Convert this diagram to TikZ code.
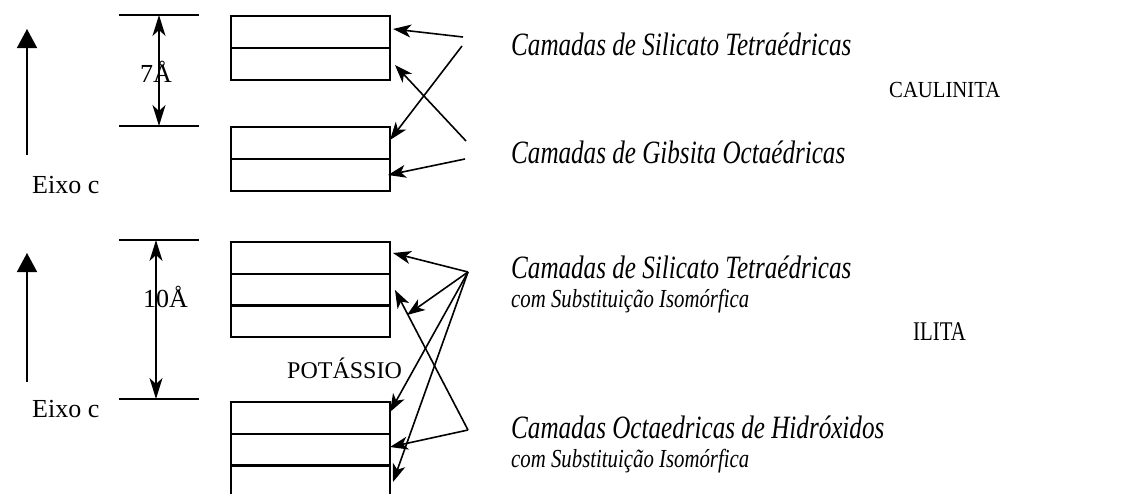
\documentclass[tikz,border=0pt]{standalone}
\usepackage{fontspec}
\setmainfont{Liberation Serif}
\usetikzlibrary{arrows.meta}
\tikzset{
  layer/.style={draw, line width=2pt, minimum width=159pt, minimum height=32pt, inner sep=0pt, anchor=north west},
  ptr/.style={line width=1.6pt, -{Stealth[length=18pt,width=13pt,inset=5pt]}},
  dim/.style={line width=1.6pt, {Stealth[length=21pt,width=13pt,inset=6pt]}-{Stealth[length=21pt,width=13pt,inset=6pt]}},
  tick/.style={line width=1.6pt},
  axis/.style={line width=1.6pt, -{Triangle[length=19pt,width=20pt]}},
  txt/.style={inner sep=0pt, anchor=base west},
  big/.style={txt, font=\fontsize{31}{36}\selectfont\itshape},
  small/.style={txt, font=\fontsize{26}{30}\selectfont\itshape},
  lab/.style={txt, font=\fontsize{26}{30}\selectfont}
}
\begin{document}
\begin{tikzpicture}[x=1pt,y=-1pt]
\useasboundingbox (0,0) rectangle (1135,493);
\begin{scope}
\clip (0,0) rectangle (1135,493);
% CAULINITA boxes
\node[layer] (k1a) at (230,15) {};
\node[layer] (k1b) at (230,47) {};
\node[layer] (k2a) at (230,126) {};
\node[layer] (k2b) at (230,158) {};
% ILITA boxes
\node[layer] (i1a) at (230,241) {};
\node[layer] (i1b) at (230,272.5) {};
\node[layer] (i1c) at (230,304) {};
\node[layer] (i2a) at (230,401) {};
\node[layer] (i2b) at (230,432.5) {};
\node[layer] (i2c) at (230,464) {};
\end{scope}

% axes
\coordinate (ax1s) at (27,155); \coordinate (ax1e) at (27,29);
\draw[axis] (ax1s) -- (ax1e);
\coordinate (ax2s) at (27,382); \coordinate (ax2e) at (27,253);
\draw[axis] (ax2s) -- (ax2e);
\node[lab] (eixo1) at (32,193) {Eixo c};
\node[lab] (eixo2) at (32,417) {Eixo c};

% dimension 7A
\coordinate (t1a) at (119,15); \coordinate (t1b) at (199,15);
\coordinate (t2a) at (119,126); \coordinate (t2b) at (199,126);
\draw[tick] (t1a) -- (t1b);
\draw[tick] (t2a) -- (t2b);
\coordinate (d1s) at (159,15); \coordinate (d1e) at (159,126);
\draw[dim] (d1s) -- (d1e);
\node[lab] (sete) at (140,82) {7Å};

% dimension 10A
\coordinate (t3a) at (119,240); \coordinate (t3b) at (199,240);
\coordinate (t4a) at (119,399); \coordinate (t4b) at (199,399);
\draw[tick] (t3a) -- (t3b);
\draw[tick] (t4a) -- (t4b);
\coordinate (d2s) at (156,240); \coordinate (d2e) at (156,399);
\draw[dim] (d2s) -- (d2e);
\node[lab] (dez) at (143,307) {10Å};
\node[txt, font=\fontsize{24}{28}\selectfont] (pot) at (287,378) {POTÁSSIO};

% CAULINITA pointers
\coordinate (s1) at (463,37); \coordinate (e1) at (393,29);
\coordinate (s2) at (466,141); \coordinate (e2) at (395,65);
\coordinate (s3) at (462,46); \coordinate (e3) at (390,140);
\coordinate (s4) at (465,159); \coordinate (e4) at (388,175);
\draw[ptr] (s1) -- (e1);
\draw[ptr] (s2) -- (e2);
\draw[ptr] (s3) -- (e3);
\draw[ptr] (s4) -- (e4);

% ILITA pointers
\coordinate (A) at (468,272);
\coordinate (B) at (468,430);
\coordinate (f1) at (393,253);
\coordinate (f2) at (407,315);
\coordinate (f3) at (390,412);
\coordinate (f4) at (393,482);
\coordinate (g1) at (395,290);
\coordinate (g2) at (390,447);
\draw[ptr] (A) -- (f1);
\draw[ptr] (A) -- (f2);
\draw[ptr] (A) -- (f3);
\draw[ptr] (A) -- (f4);
\draw[ptr] (B) -- (g1);
\draw[ptr] (B) -- (g2);

% texts
\node[big] (c1) at (511,55) {\scalebox{0.81}[1.05]{Camadas de Silicato Tetraédricas}};
\node[big] (c2) at (511,163) {\scalebox{0.81}[1.05]{Camadas de Gibsita Octaédricas}};
\node[big] (c3) at (511,278) {\scalebox{0.81}[1.05]{Camadas de Silicato Tetraédricas}};
\node[small] (c3s) at (511,307) {\scalebox{0.8}[1]{com Substituição Isomórfica}};
\node[big] (c4) at (511,438) {\scalebox{0.81}[1.05]{Camadas Octaedricas de Hidróxidos}};
\node[small] (c4s) at (511,467) {\scalebox{0.8}[1]{com Substituição Isomórfica}};
\node[txt, font=\fontsize{23}{27}\selectfont] (caul) at (889,97) {\scalebox{0.9}[1]{CAULINITA}};
\node[txt, font=\fontsize{27}{31}\selectfont] (ilita) at (913,340) {\scalebox{0.77}[1]{ILITA}};
\end{tikzpicture}
\end{document}
